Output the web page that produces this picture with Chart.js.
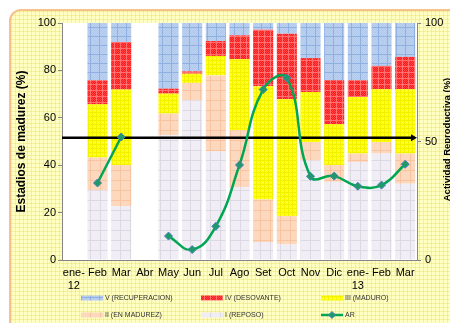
<!DOCTYPE html>
<html>
<head>
<meta charset="utf-8">
<script src="https://cdn.jsdelivr.net/npm/chart.js@4.4.1/dist/chart.umd.min.js"></script>
<style>
    html, body { margin: 0; padding: 0; width: 450px; height: 323px; overflow: hidden; background: #fff; }
    #frame {
        position: absolute; left: 9px; top: 9px; width: 480px; height: 340px;
        border: 2px solid #F6C28C; border-radius: 12px;
        background-color: #FFFFC4;
        background-image:
            linear-gradient(rgba(225, 215, 80, 0.35) 1px, transparent 1px),
            linear-gradient(90deg, rgba(225, 215, 80, 0.35) 1px, transparent 1px);
        background-size: 4px 4px;
    }
    #chart { position: absolute; left: 0; top: 0; }
</style>
</head>
<body>
<div id="frame"></div>
<canvas id="chart" width="450" height="323"></canvas>
<script>
// meses del muestreo
const months = [['ene-', '12'], 'Feb', 'Mar', 'Abr', 'May', 'Jun', 'Jul', 'Ago', 'Set', 'Oct', 'Nov', 'Dic', ['ene-', '13'], 'Feb', 'Mar'];

// estadios de madurez (%), de abajo hacia arriba
const reposo       = [null, 29.4, 22.7, null, 52.6, 67.4, 45.8, 30.8,  7.6,  6.6, 42.0, 33.0, 41.4, 44.9, 32.2];
const enMadurez    = [null, 13.8, 17.3, null,  9.2,  7.3, 32.1, 23.9, 17.9, 12.0,  7.8,  7.0,  3.5,  4.9, 12.7];
const maduro       = [null, 22.5, 31.9, null,  8.4,  3.9,  8.2, 30.0, 47.8, 49.2, 21.1, 17.3, 23.9, 22.2, 27.1];
const desovante    = [null, 10.1, 20.1, null,  2.1,  1.0,  6.3, 10.1, 23.9, 27.7, 14.3, 18.5,  7.0,  9.9, 13.7];
const recuperacion = [null, 24.2,  8.0, null, 27.7, 20.4,  7.6,  5.2,  2.8,  4.5, 14.8, 24.2, 24.2, 18.1, 14.3];

// actividad reproductiva (%)
const ar = [null, 32.5, 51.9, null, 10.1, 4.4, 14.2, 40.1, 71.9, 76.8, 35.3, 35.4, 31.1, 31.6, 40.4];

const umbral = 51.6;
const leftTicks = [0, 20, 40, 60, 80, 100];
const rightTicks = [0, 50, 100];

const FONT = '"Liberation Sans", Arial, sans-serif';

// tramas de relleno
function makePattern(base, line, dot, size) {
    const c = document.createElement('canvas');
    c.width = size; c.height = size;
    const g = c.getContext('2d');
    g.fillStyle = base;
    g.fillRect(0, 0, size, size);
    if (dot) {
        g.fillStyle = dot;
        for (let y = 0; y < size; y++) {
            for (let x = 0; x < size; x++) {
                if ((x + y) % 2 === 0) g.fillRect(x, y, 1, 1);
            }
        }
    }
    if (line) {
        g.fillStyle = line;
        g.fillRect(0, 0, size, 1);
        g.fillRect(0, 0, 1, size);
    }
    return g.createPattern(c, 'repeat');
}

const fills = {
    recuperacion: makePattern('#AFC8EC', '#8FB0E0', '#BDD2F0', 9),
    desovante: makePattern('#FF1A1A', '#FF7070', '#FF4545', 6),
    maduro: makePattern('#FFFF00', '#F2F200', '#FFFF40', 4),
    enMadurez: makePattern('#FCD8BF', '#F7C3A0', null, 10),
    reposo: makePattern('#F0EEF4', '#DCD8E4', null, 10)
};

const legendItems = [
    { text: 'V (RECUPERACION)', fill: fills.recuperacion, col: 0, row: 0 },
    { text: 'IV (DESOVANTE)', fill: fills.desovante, col: 1, row: 0 },
    { text: 'III (MADURO)', fill: fills.maduro, col: 2, row: 0 },
    { text: 'II (EN MADUREZ)', fill: fills.enMadurez, col: 0, row: 1 },
    { text: 'I (REPOSO)', fill: fills.reposo, col: 1, row: 1 },
    { text: 'AR', line: true, col: 2, row: 1 }
];

const plotBackground = {
    id: 'plotBackground',
    beforeDraw(chart) {
        const { ctx, chartArea: a } = chart;
        ctx.save();
        ctx.fillStyle = '#fff';
        ctx.fillRect(a.left, a.top, a.right - a.left, a.bottom - a.top);
        ctx.restore();
    }
};

// linea de referencia con flecha, bajo la curva AR
const refLine = {
    id: 'refLine',
    beforeDatasetDraw(chart, args) {
        if (chart.data.datasets[args.index].type !== 'line') return;
        const { ctx, chartArea: a, scales } = chart;
        const y = scales.y.getPixelForValue(umbral);
        ctx.save();
        ctx.strokeStyle = '#000';
        ctx.lineWidth = 2.5;
        ctx.beginPath();
        ctx.moveTo(a.left, y);
        ctx.lineTo(a.right - 4, y);
        ctx.stroke();
        ctx.fillStyle = '#000';
        ctx.beginPath();
        ctx.moveTo(a.right, y);
        ctx.lineTo(a.right - 6, y - 3.5);
        ctx.lineTo(a.right - 6, y + 3.5);
        ctx.closePath();
        ctx.fill();
        ctx.restore();
    }
};

function verticalTitle(ctx, text, x, y, size) {
    ctx.save();
    ctx.translate(x, y);
    ctx.rotate(-Math.PI / 2);
    ctx.font = 'bold ' + size + 'px ' + FONT;
    ctx.fillStyle = '#000';
    ctx.textAlign = 'center';
    ctx.textBaseline = 'middle';
    ctx.fillText(text, 0, 0);
    ctx.restore();
}

const customText = {
    id: 'customText',
    afterDraw(chart) {
        const { ctx, chartArea: a } = chart;
        const midY = (a.top + a.bottom) / 2;
        verticalTitle(ctx, 'Estadios de madurez (%)', 22, midY, 12);
        verticalTitle(ctx, 'Actividad Reproductiva (%)', 447.5, midY - 2, 9.5);

        // leyenda en tres columnas
        const colX = [81, 201, 321];
        const rowY = [298, 315];
        ctx.save();
        ctx.font = '7px ' + FONT;
        ctx.textBaseline = 'middle';
        legendItems.forEach(item => {
            const x = colX[item.col];
            const y = rowY[item.row];
            if (item.line) {
                ctx.strokeStyle = '#00A651';
                ctx.lineWidth = 2.5;
                ctx.beginPath();
                ctx.moveTo(x, y);
                ctx.lineTo(x + 22, y);
                ctx.stroke();
                ctx.fillStyle = '#1E9A64';
                ctx.strokeStyle = '#4A7EBB';
                ctx.lineWidth = 1;
                ctx.beginPath();
                ctx.moveTo(x + 11, y - 3.5);
                ctx.lineTo(x + 14.5, y);
                ctx.lineTo(x + 11, y + 3.5);
                ctx.lineTo(x + 7.5, y);
                ctx.closePath();
                ctx.fill();
                ctx.stroke();
            } else {
                ctx.fillStyle = item.fill;
                ctx.fillRect(x, y - 2.5, 22, 5);
            }
            ctx.fillStyle = '#333';
            ctx.fillText(item.text, x + 24, y + 0.5);
        });
        ctx.restore();
    }
};

function barSet(label, data, fill) {
    return {
        type: 'bar',
        label: label,
        data: data,
        backgroundColor: fill,
        borderWidth: 0,
        stack: 'estadios',
        yAxisID: 'y',
        order: 1,
        barPercentage: 0.85,
        categoryPercentage: 1
    };
}

new Chart(document.getElementById('chart'), {
    data: {
        labels: months,
        datasets: [
            barSet('I (REPOSO)', reposo, fills.reposo),
            barSet('II (EN MADUREZ)', enMadurez, fills.enMadurez),
            barSet('III (MADURO)', maduro, fills.maduro),
            barSet('IV (DESOVANTE)', desovante, fills.desovante),
            barSet('V (RECUPERACION)', recuperacion, fills.recuperacion),
            {
                type: 'line',
                label: 'AR',
                data: ar,
                yAxisID: 'y2',
                order: 0,
                borderColor: '#00A651',
                borderWidth: 2.5,
                tension: 0.45,
                spanGaps: false,
                pointStyle: 'rectRot',
                pointRadius: 4,
                pointBackgroundColor: '#1E9A64',
                pointBorderColor: '#4A7EBB',
                pointBorderWidth: 1
            }
        ]
    },
    options: {
        responsive: false,
        animation: false,
        layout: { padding: { top: 23, left: 0, right: 0, bottom: 0 } },
        plugins: {
            legend: { display: false },
            tooltip: { enabled: false }
        },
        scales: {
            x: {
                stacked: true,
                grid: { drawOnChartArea: false, drawTicks: false },
                border: { color: '#868686' },
                ticks: { color: '#000', font: { family: FONT, size: 11 }, padding: 6, maxRotation: 0, autoSkip: false },
                afterFit(scale) { scale.height = 63; }
            },
            y: {
                stacked: true,
                position: 'left',
                min: 0,
                max: 100,
                afterBuildTicks(scale) { scale.ticks = leftTicks.map(v => ({ value: v })); },
                grid: { drawOnChartArea: false, tickLength: 4, color: '#868686' },
                border: { color: '#868686' },
                ticks: { color: '#000', font: { family: FONT, size: 11 }, padding: 2 },
                afterFit(scale) { scale.width = 62; }
            },
            y2: {
                stacked: false,
                position: 'right',
                min: 0,
                max: 100,
                afterBuildTicks(scale) { scale.ticks = rightTicks.map(v => ({ value: v })); },
                grid: { drawOnChartArea: false, tickLength: 4, color: '#868686' },
                border: { color: '#868686' },
                ticks: { color: '#000', font: { family: FONT, size: 11 }, padding: 4 },
                afterFit(scale) { scale.width = 33; }
            }
        }
    },
    plugins: [plotBackground, refLine, customText]
});
</script>
</body>
</html>
